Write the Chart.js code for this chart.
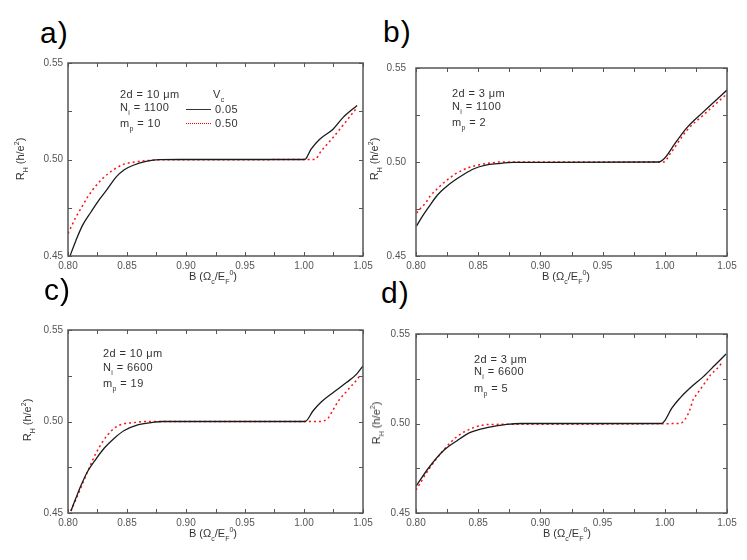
<!DOCTYPE html>
<html lang="en">
<head>
<meta charset="utf-8">
<title>Hall resistance near the plateau</title>
<script src="https://cdn.jsdelivr.net/npm/chart.js@4.4.1/dist/chart.umd.min.js"></script>
<style>
  body { margin:0; background:#fff; }
  #page { position:relative; width:747px; height:560px; overflow:hidden; font-family:"Liberation Sans", Arial, sans-serif; }
  canvas { position:absolute; }
  .tag { position:absolute; font-size:30px; line-height:30px; color:#000; letter-spacing:1px; }
  .note { position:absolute; font-size:11px; line-height:12px; color:#333; white-space:nowrap; letter-spacing:0.4px; }
  .note sub, .xt sub, .yt sub { font-size:7px; vertical-align:-4px; line-height:0; }
  .note sup, .xt sup, .yt sup { font-size:7px; vertical-align:5px; line-height:0; }
  .xt, .yt { position:absolute; font-size:11px; line-height:12px; color:#333; white-space:nowrap; transform:translate(-50%,-50%); }
  .yt { transform:translate(-50%,-50%) rotate(-90deg); }
  .key { position:absolute; width:25px; height:0; }
</style>
</head>
<body>
<div id="page">
  <canvas id="pa"></canvas>
  <canvas id="pb"></canvas>
  <canvas id="pc"></canvas>
  <canvas id="pd"></canvas>

  <div class="tag" style="left:40px;top:18px">a)</div>
  <div class="tag" style="left:383px;top:17px">b)</div>
  <div class="tag" style="left:44px;top:275px">c)</div>
  <div class="tag" style="left:381px;top:278px">d)</div>

  <!-- panel a notes + key -->
  <div class="note" style="left:120px;top:88px">2d = 10 &mu;m</div>
  <div class="note" style="left:120px;top:101px">N<sub>i</sub> = 1100</div>
  <div class="note" style="left:120px;top:117px">m<sub>p</sub> = 10</div>
  <div class="note" style="left:213px;top:88px">V<sub>c</sub></div>
  <div class="key" style="left:186px;top:109px;border-top:1.5px solid #333"></div>
  <div class="note" style="left:215px;top:103px">0.05</div>
  <div class="key" style="left:186px;top:123px;border-top:1.5px dotted #f00"></div>
  <div class="note" style="left:215px;top:117px">0.50</div>

  <!-- panel b -->
  <div class="note" style="left:452px;top:87px">2d = 3 &mu;m</div>
  <div class="note" style="left:452px;top:100px">N<sub>i</sub> = 1100</div>
  <div class="note" style="left:452px;top:116px">m<sub>p</sub> = 2</div>

  <!-- panel c -->
  <div class="note" style="left:103px;top:347px">2d = 10 &mu;m</div>
  <div class="note" style="left:103px;top:361px">N<sub>i</sub> = 6600</div>
  <div class="note" style="left:103px;top:377px">m<sub>p</sub> = 19</div>

  <!-- panel d -->
  <div class="note" style="left:474px;top:353px">2d = 3 &mu;m</div>
  <div class="note" style="left:474px;top:365px">N<sub>i</sub> = 6600</div>
  <div class="note" style="left:474px;top:382px">m<sub>p</sub> = 5</div>

  <!-- axis titles -->
  <div class="yt" style="left:20px;top:159px">R<sub>H</sub> (h/e<sup>2</sup>)</div>
  <div class="yt" style="left:374px;top:159px">R<sub>H</sub> (h/e<sup>2</sup>)</div>
  <div class="yt" style="left:27px;top:420px">R<sub>H</sub> (h/e<sup>2</sup>)</div>
  <div class="yt" style="left:376px;top:423px">R<sub>H</sub> (h/e<sup>2</sup>)</div>
  <div class="xt" style="left:213px;top:276px">B (&Omega;<sub>c</sub>/E<sub>F</sub><sup>0</sup>)</div>
  <div class="xt" style="left:566px;top:276px">B (&Omega;<sub>c</sub>/E<sub>F</sub><sup>0</sup>)</div>
  <div class="xt" style="left:213px;top:533px">B (&Omega;<sub>c</sub>/E<sub>F</sub><sup>0</sup>)</div>
  <div class="xt" style="left:567px;top:533px">B (&Omega;<sub>c</sub>/E<sub>F</sub><sup>0</sup>)</div>
</div>

<script>
// axis ranges / ticks
const fieldMin = 0.80, fieldMax = 1.05, fieldStep = 0.05;
const hallMin = 0.45, hallMax = 0.55, hallStep = 0.05;

// panel a: 2d = 10 um, Ni = 1100
const aFieldSolid = [0.8017, 0.8068, 0.8124, 0.8195, 0.8265, 0.8336, 0.8407, 0.8477, 0.8548, 0.8661, 0.8774, 0.895, 1.0005, 1.006, 1.0133, 1.0246, 1.033, 1.045];
const aHallSolid  = [0.450, 0.4582, 0.466, 0.4728, 0.4792, 0.4849, 0.4909, 0.4947, 0.4969, 0.499, 0.4999, 0.5, 0.5, 0.5054, 0.5105, 0.5157, 0.5217, 0.528];
const aFieldDot = [0.800, 0.8025, 0.8068, 0.811, 0.8167, 0.8252, 0.835, 0.8463, 0.8576, 0.8689, 0.883, 1.009, 1.0147, 1.0246, 1.036, 1.045];
const aHallDot  = [0.4617, 0.4648, 0.4703, 0.4746, 0.4806, 0.4875, 0.4931, 0.4973, 0.4988, 0.4995, 0.4999, 0.5, 0.5045, 0.5114, 0.520, 0.527];

// panel b: 2d = 3 um, Ni = 1100
const bFieldSolid = [0.8005, 0.8051, 0.8105, 0.8171, 0.8239, 0.8305, 0.8386, 0.8466, 0.856, 0.8654, 0.878, 0.995, 1.0004, 1.0071, 1.0178, 1.0312, 1.05];
const bHallSolid  = [0.466, 0.4711, 0.4763, 0.4823, 0.4866, 0.490, 0.4935, 0.4964, 0.4983, 0.4991, 0.4998, 0.5, 0.5024, 0.5088, 0.5183, 0.5268, 0.5383];
const bFieldDot = [0.8005, 0.8037, 0.8078, 0.8118, 0.8158, 0.8211, 0.8265, 0.8319, 0.8386, 0.844, 0.8493, 0.860, 0.868, 0.999, 1.0045, 1.0178, 1.0312, 1.05];
const bHallDot  = [0.4728, 0.4754, 0.4783, 0.4823, 0.4849, 0.4883, 0.4912, 0.4938, 0.496, 0.4974, 0.4983, 0.4995, 0.5, 0.5, 0.5045, 0.5169, 0.5251, 0.5363];

// panel c: 2d = 10 um, Ni = 6600
const cFieldSolid = [0.8025, 0.8068, 0.811, 0.8167, 0.8237, 0.8308, 0.8392, 0.8477, 0.8591, 0.8718, 0.880, 1.0008, 1.0079, 1.015, 1.0248, 1.0362, 1.0446, 1.05];
const cHallSolid  = [0.4511, 0.4583, 0.465, 0.4728, 0.4795, 0.4855, 0.4909, 0.4951, 0.4982, 0.4995, 0.5, 0.5, 0.506, 0.5109, 0.5159, 0.5214, 0.5259, 0.5304];
const cFieldDot = [0.8025, 0.8096, 0.8167, 0.8237, 0.8294, 0.8336, 0.8392, 0.8463, 0.8548, 0.8661, 1.0136, 1.0206, 1.0235, 1.0263, 1.0305, 1.0347, 1.039, 1.0441, 1.0483];
const cHallDot  = [0.4511, 0.4618, 0.4728, 0.4827, 0.489, 0.4927, 0.4963, 0.4986, 0.4993, 0.5, 0.5, 0.502, 0.5051, 0.5082, 0.5124, 0.5154, 0.5186, 0.5223, 0.5259];

// panel d: 2d = 3 um, Ni = 6600
const dFieldSolid = [0.800, 0.8107, 0.8222, 0.833, 0.8437, 0.857, 0.873, 0.885, 0.9975, 1.0002, 1.0055, 1.0122, 1.0203, 1.031, 1.0404, 1.0492];
const dHallSolid  = [0.465, 0.4757, 0.4849, 0.4904, 0.495, 0.4977, 0.4995, 0.5, 0.5, 0.5018, 0.5084, 0.5142, 0.5198, 0.5262, 0.5327, 0.5388];
const dFieldDot = [0.800, 0.8107, 0.822, 0.833, 0.8464, 0.860, 1.0122, 1.0162, 1.0197, 1.0229, 1.0261, 1.0289, 1.0331, 1.0369, 1.0417, 1.0457];
const dHallDot  = [0.4628, 0.4748, 0.485, 0.4927, 0.4977, 0.4995, 0.5, 0.5023, 0.5069, 0.5134, 0.5167, 0.5195, 0.5235, 0.5272, 0.5305, 0.5336];

// where each plot box sits on the page
const panels = [
  { id:'pa', box:[68, 62, 363, 256],  solid:[aFieldSolid, aHallSolid], dot:[aFieldDot, aHallDot], gap:5 },
  { id:'pb', box:[416, 62, 727, 256], solid:[bFieldSolid, bHallSolid], dot:[bFieldDot, bHallDot], gap:10 },
  { id:'pc', box:[68, 329, 363, 513], solid:[cFieldSolid, cHallSolid], dot:[cFieldDot, cHallDot], gap:5 },
  { id:'pd', box:[416, 332, 727, 513], solid:[dFieldSolid, dHallSolid], dot:[dFieldDot, dHallDot], gap:6 }
];

const padL = 40, padT = 10, padR = 14, padB = 20;

function pairs(xs, ys) {
  return xs.map((v, i) => ({ x: v, y: ys[i] }));
}

// majors plus the midpoint between each pair
function withMinor(vals) {
  const out = [];
  vals.forEach((v, i) => {
    out.push(v);
    if (i < vals.length - 1) out.push((v + vals[i + 1]) / 2);
  });
  return out;
}

// closed frame with small inward ticks on all four sides
const frameTicks = {
  id: 'frameTicks',
  afterDatasetsDraw(chart) {
    const ctx = chart.ctx, a = chart.chartArea;
    const xs = chart.scales.x, ys = chart.scales.y;
    const len = 4;
    ctx.save();
    ctx.strokeStyle = '#555';
    ctx.lineWidth = 1;
    ctx.beginPath();
    withMinor(xs.ticks.map(t => t.value)).forEach(v => {
      const px = Math.round(xs.getPixelForValue(v)) + 0.5;
      ctx.moveTo(px, a.bottom); ctx.lineTo(px, a.bottom - len);
      ctx.moveTo(px, a.top);    ctx.lineTo(px, a.top + len);
    });
    withMinor(ys.ticks.map(t => t.value)).forEach(v => {
      const py = Math.round(ys.getPixelForValue(v)) + 0.5;
      ctx.moveTo(a.left, py);  ctx.lineTo(a.left + len, py);
      ctx.moveTo(a.right, py); ctx.lineTo(a.right - len, py);
    });
    ctx.stroke();
    ctx.lineWidth = 1.5;
    ctx.strokeStyle = '#555';
    ctx.strokeRect(a.left, a.top, a.right - a.left, a.bottom - a.top);
    ctx.restore();
  }
};

const tickFont = { family: 'Liberation Sans', size: 10 };

panels.forEach(p => {
  const [l, t, r, b] = p.box;
  const cv = document.getElementById(p.id);
  cv.width = (r - l) + padL + padR;
  cv.height = (b - t) + padT + padB;
  cv.style.left = (l - padL) + 'px';
  cv.style.top = (t - padT) + 'px';

  new Chart(cv, {
    type: 'line',
    data: {
      datasets: [
        {
          data: pairs(p.solid[0], p.solid[1]),
          borderColor: '#1a1a1a',
          borderWidth: 1.3,
          pointRadius: 0,
          fill: false,
          cubicInterpolationMode: 'monotone'
        },
        {
          data: pairs(p.dot[0], p.dot[1]),
          borderColor: '#ff1010',
          borderWidth: 1.5,
          borderDash: [2, 3],
          pointRadius: 0,
          fill: false,
          cubicInterpolationMode: 'monotone'
        }
      ]
    },
    options: {
      responsive: false,
      animation: false,
      layout: { padding: { left: 0, top: padT, right: padR, bottom: 0 } },
      scales: {
        x: {
          type: 'linear',
          min: fieldMin, max: fieldMax,
          afterFit: s => { s.height = padB; },
          grid: { display: false, drawTicks: false },
          border: { display: false },
          ticks: {
            stepSize: fieldStep, autoSkip: false, maxRotation: 0,
            padding: 4, color: '#555', font: tickFont,
            callback: v => Number(v).toFixed(2)
          }
        },
        y: {
          min: hallMin, max: hallMax,
          afterFit: s => { s.width = padL; },
          grid: { display: false, drawTicks: false },
          border: { display: false },
          ticks: {
            stepSize: hallStep, autoSkip: false,
            padding: p.gap, color: '#555', font: tickFont,
            callback: v => Number(v).toFixed(2)
          }
        }
      },
      plugins: {
        legend: { display: false },
        tooltip: { enabled: false }
      }
    },
    plugins: [frameTicks]
  });
});
</script>
</body>
</html>
